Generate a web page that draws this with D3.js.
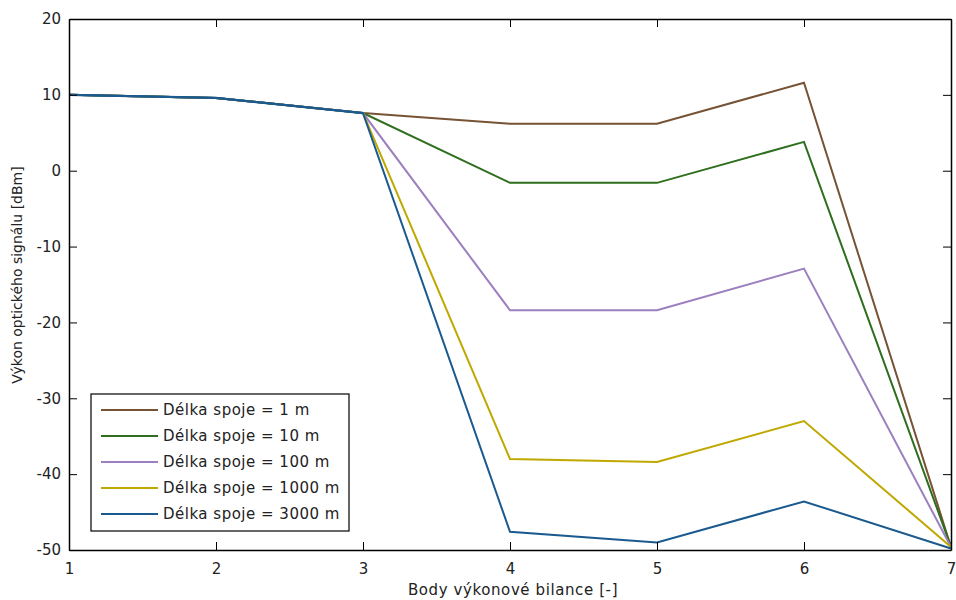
<!DOCTYPE html>
<html><head><meta charset="utf-8">
<script src="https://cdn.jsdelivr.net/npm/d3@7"></script>
<style>body{margin:0;background:#fff}svg{display:block}text{font-family:"DejaVu Sans",Arial,sans-serif}</style>
</head><body><svg id="c" width="956" height="600"></svg>
<script>
const xPoints = [1, 2, 3, 4, 5, 6, 7];
const seriesNames = ["Délka spoje = 1 m","Délka spoje = 10 m","Délka spoje = 100 m","Délka spoje = 1000 m","Délka spoje = 3000 m"];
const s1m    = [10.0, 9.6, 7.6, 6.2, 6.2, 11.6, -49.6];
const s10m   = [10.0, 9.6, 7.6, -1.6, -1.6, 3.8, -49.6];
const s100m  = [10.0, 9.6, 7.6, -18.4, -18.4, -12.9, -49.6];
const s1000m = [10.0, 9.6, 7.6, -38.0, -38.4, -33.0, -49.6];
const s3000m = [10.0, 9.6, 7.6, -47.6, -49.0, -43.6, -49.8];
const colors = ["#765334","#2e6e1e","#9b7fbf","#bfa800","#1a5a8f"];
const xTicks = [1,2,3,4,5,6,7];
const yTicks = [-50,-40,-30,-20,-10,0,10,20];

const svg = d3.select("#c");
const L=69, R=951, T=19, B=550;
const x = d3.scaleLinear().domain([1,7]).range([L,R]);
const y = d3.scaleLinear().domain([-50,20]).range([B,T]);
const all=[s1m,s10m,s100m,s1000m,s3000m];
const fmt = d => String(d);

const line = d3.line().x((d,i)=>x(xPoints[i])).y(d=>y(d));
all.forEach((s,i)=>{
  svg.append("path").attr("d",line(s)).attr("fill","none")
    .attr("stroke",colors[i]).attr("stroke-width",2).attr("stroke-linejoin","miter");
});
svg.append("path").attr("d",line(s3000m.slice(0,3))).attr("fill","none").attr("stroke",colors[4]).attr("stroke-width",2.2);

const fs=15;
const gb=svg.append("g").attr("transform",`translate(0,${B})`).call(d3.axisBottom(x).tickValues(xTicks).tickSizeInner(-8).tickSizeOuter(0).tickPadding(13).tickFormat(fmt));
const gt=svg.append("g").attr("transform",`translate(0,${T})`).call(d3.axisTop(x).tickValues(xTicks).tickSizeInner(-8).tickSizeOuter(0).tickFormat(""));
const gl=svg.append("g").attr("transform",`translate(${L},0)`).call(d3.axisLeft(y).tickValues(yTicks).tickSizeInner(-8).tickSizeOuter(0).tickPadding(8).tickFormat(fmt));
const gr=svg.append("g").attr("transform",`translate(${R},0)`).call(d3.axisRight(y).tickValues(yTicks).tickSizeInner(-8).tickSizeOuter(0).tickFormat(""));
[gb,gt,gl,gr].forEach(g=>{g.selectAll("path").attr("stroke","#000").attr("stroke-width",1.5);g.selectAll("line").attr("stroke","#000");g.selectAll("text").attr("fill","#222").style("font-size",fs+"px").style("font-family","'DejaVu Sans',Arial,sans-serif");});
gb.selectAll("text").attr("dy","0.71em");

svg.append("text").attr("x",513).attr("y",595).attr("text-anchor","middle").style("font-size","15px").style("letter-spacing","0.6px").attr("fill","#222").text("Body výkonové bilance [-]");
svg.append("text").attr("transform",`translate(22,275) rotate(-90)`).attr("text-anchor","middle").style("font-size","14px").attr("fill","#222").text("Výkon optického signálu [dBm]");

const lg=svg.append("g");
lg.append("rect").attr("x",91).attr("y",394).attr("width",258).attr("height",137).attr("fill","#fff").attr("stroke","#000").attr("stroke-width",1.2);
seriesNames.forEach((n,i)=>{
  const yy=410+i*26;
  lg.append("line").attr("x1",101).attr("x2",158).attr("y1",yy).attr("y2",yy).attr("stroke",colors[i]).attr("stroke-width",2);
  lg.append("text").attr("x",163).attr("y",yy).attr("dy","0.35em").style("font-size","15px").style("letter-spacing","0.5px").attr("fill","#222").text(n);
});
</script></body></html>
